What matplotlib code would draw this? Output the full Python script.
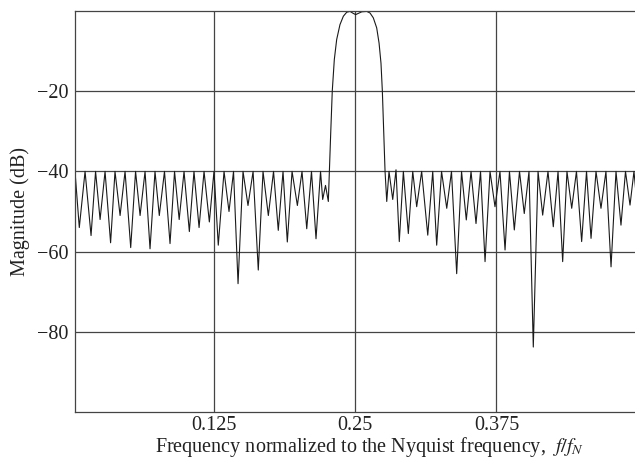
import numpy as np
import matplotlib
matplotlib.use("Agg")
import matplotlib.pyplot as plt

# bandpass filter magnitude response
# left stopband: alternating lobe peaks and notches
left_f = [0.0020, 0.0058, 0.0109, 0.0162, 0.0202, 0.0242, 0.0286, 0.0335, 0.0374, 0.0419,
          0.0463, 0.0513, 0.0556, 0.0596, 0.0640, 0.0684, 0.0728, 0.0766, 0.0812, 0.0861,
          0.0901, 0.0942, 0.0985, 0.1032, 0.1073, 0.1118, 0.1162, 0.1209, 0.1250, 0.1288,
          0.1339, 0.1383, 0.1423, 0.1463, 0.1507, 0.1551, 0.1596, 0.1642, 0.1684, 0.1731,
          0.1777, 0.1819, 0.1861, 0.1899, 0.1941, 0.1988, 0.2029, 0.2071, 0.2113, 0.2153,
          0.2193, 0.2212, 0.2237, 0.2262]
left_db = [-40, -54, -40, -56, -40, -52, -40, -57.8, -40, -51,
           -40, -59, -40, -51, -40, -59.3, -40, -51, -40, -58,
           -40, -52, -40, -55, -40, -54, -40, -52.6, -40, -58.4,
           -40, -50, -40, -68, -40, -48.5, -40, -64.6, -40, -51,
           -40, -54.7, -40, -57.6, -40, -48.5, -40, -54.3, -40, -56.8,
           -40, -47, -43.5, -47.5]

# passband
pass_f = [0.2271, 0.2283, 0.2297, 0.2315, 0.2336, 0.2365, 0.2395, 0.2425, 0.2454, 0.2483,
          0.2504, 0.2527, 0.2558, 0.2602, 0.2631, 0.2660, 0.2690, 0.2711, 0.2728, 0.2740,
          0.2752, 0.2764]
pass_db = [-40, -30.5, -19.9, -12.1, -7.1, -3.4, -1.3, -0.3, -0.1, -0.6,
           -0.9, -0.6, -0.2, -0.1, -0.5, -1.7, -4.2, -8.0, -13, -19.9,
           -29.6, -40]

# right stopband
right_f = [0.2779, 0.2799, 0.2832, 0.2861, 0.2890, 0.2926, 0.2970, 0.3009, 0.3044, 0.3088,
           0.3142, 0.3186, 0.3221, 0.3264, 0.3310, 0.3352, 0.3398, 0.3441, 0.3483, 0.3525,
           0.3569, 0.3609, 0.3649, 0.3693, 0.3737, 0.3781, 0.3826, 0.3865, 0.3908, 0.3954,
           0.3996, 0.4038, 0.4076, 0.4118, 0.4159, 0.4206, 0.4253, 0.4295, 0.4336, 0.4374,
           0.4416, 0.4458, 0.4504, 0.4547, 0.4587, 0.4631, 0.4675, 0.4719, 0.4764, 0.4808,
           0.4852, 0.4892, 0.4932, 0.4967, 0.5000]
right_db = [-47.5, -40, -47, -39.6, -57.5, -40, -55.5, -40, -48.8, -40,
            -55.9, -40, -58.4, -40, -49.2, -40, -65.5, -40, -52.1, -40,
            -53, -40, -62.5, -40, -48.8, -40, -59.6, -40, -54.6, -40,
            -50.5, -40, -83.8, -40, -50.9, -40, -53.8, -40, -62.5, -40,
            -49.2, -40, -57.5, -40, -56.7, -40, -49.2, -40, -63.8, -40,
            -53.4, -40, -48.4, -40, -50]

x_ticks = [0.125, 0.25, 0.375]
x_ticklabels = ["0.125", "0.25", "0.375"]
y_ticks = [-20, -40, -60, -80]

freq = np.array(left_f + pass_f + right_f)
mag = np.array(left_db + pass_db + right_db)

plt.rcParams['font.family'] = ['Liberation Serif', 'DejaVu Serif']
plt.rcParams['mathtext.fontset'] = 'stix'

fig = plt.figure(figsize=(6.35, 4.58), dpi=100)
ax = fig.add_axes([75 / 635, 46 / 458, 562.7 / 635, 401 / 458])

ax.plot(freq, mag, color='#1a1a1a', linewidth=0.8)

ax.set_xlim(0.002, 0.5)
ax.set_ylim(-100, 0)
ax.set_xticks(x_ticks)
ax.set_xticklabels(x_ticklabels)
ax.set_yticks(y_ticks)
ax.tick_params(axis='x', length=0, labelsize=14.5, pad=3, colors='#222222')
ax.tick_params(axis='y', length=0, labelsize=14.5, pad=5, colors='#222222')
ax.grid(True, color='#444444', linewidth=0.9)
ax.set_axisbelow(True)
for side in ['left', 'bottom', 'top']:
    ax.spines[side].set_color('#444444')
    ax.spines[side].set_linewidth(0.9)
ax.spines['right'].set_visible(False)

ax.set_xlabel(r'Frequency normalized to the Nyquist frequency,  $\it{f/f_N}$',
              fontsize=14.5, color='#222222', labelpad=0)
ax.xaxis.set_label_coords(0.524, -0.058)
ax.set_ylabel('Magnitude (dB)', fontsize=14.5, color='#222222', labelpad=5)

fig.savefig('out.png', dpi=100)
